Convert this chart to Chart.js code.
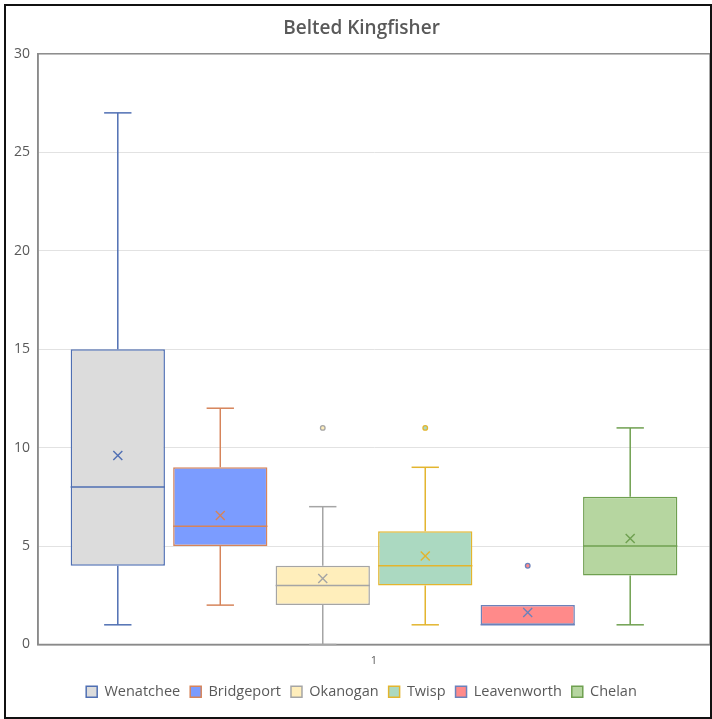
<!DOCTYPE html>
<html><head><meta charset="utf-8">
<script src="https://cdn.jsdelivr.net/npm/chart.js@4.4.1/dist/chart.umd.min.js"></script>
<style>
html,body{margin:0;padding:0;background:#fff;}
#wrap{position:relative;width:712px;height:719px;}
#frame{position:absolute;left:4px;top:4px;width:708px;height:715px;box-sizing:border-box;border:2px solid #111;pointer-events:none;}
canvas{display:block;}
</style></head><body>
<div id="wrap"><canvas id="c" width="712" height="719"></canvas><div id="frame"></div></div>
<script>
const categories = ['1'];
const seriesNames = ['Wenatchee', 'Bridgeport', 'Okanogan', 'Twisp', 'Leavenworth', 'Chelan'];
const minValues = [1, 2, 0, 1, 1, 1];
const q1Values = [4, 5, 2, 3, 1, 3.5];
const medianValues = [8, 6, 3, 4, 1, 5];
const q3Values = [15, 9, 4, 5.75, 2, 7.5];
const maxValues = [27, 12, 7, 9, 2, 11];
const meanValues = [9.6, 6.55, 3.35, 4.5, 1.63, 5.38];
const outlierValues = [[], [], [11], [11], [4], []];
const yTickValues = [0, 5, 10, 15, 20, 25, 30];

const fillColors = ['#dcdcdc', '#7b9cff', '#ffeebb', '#abd9c1', '#ff8a8a', '#b6d6a0'];
const lineColors = ['#4f6fb3', '#d6845a', '#a5a5a5', '#e3b52e', '#6b82bb', '#6fa050'];
const TEXT = '#595959';
const FONT = "'Open Sans', 'Noto Sans', sans-serif";

const boxPlugin = {
  id: 'boxplot',
  beforeDatasetsDraw(chart) {
    const ctx = chart.ctx, a = chart.chartArea;
    ctx.save();
    ctx.strokeStyle = '#8a8a8a';
    ctx.lineWidth = 1.5;
    ctx.strokeRect(a.left, a.top, a.right - a.left, a.bottom - a.top);
    ctx.restore();
  },
  afterDatasetsDraw(chart) {
    const ctx = chart.ctx, ys = chart.scales.y;
    const py = v => ys.getPixelForValue(v);
    chart.data.datasets.forEach((ds, i) => {
      const el = chart.getDatasetMeta(i).data[0];
      if (!el) return;
      const cx = el.x, w = el.width;
      const left = cx - w / 2, right = cx + w / 2;
      const cap = w * 0.145;
      ctx.save();
      ctx.strokeStyle = lineColors[i];
      ctx.lineWidth = 1.5;
      const seg = (x1, y1, x2, y2) => { ctx.beginPath(); ctx.moveTo(x1, y1); ctx.lineTo(x2, y2); ctx.stroke(); };
      if (maxValues[i] > q3Values[i]) {
        seg(cx, py(q3Values[i]), cx, py(maxValues[i]));
        seg(cx - cap, py(maxValues[i]), cx + cap, py(maxValues[i]));
      }
      if (minValues[i] < q1Values[i]) {
        seg(cx, py(q1Values[i]), cx, py(minValues[i]));
        seg(cx - cap, py(minValues[i]), cx + cap, py(minValues[i]));
      }
      seg(left, py(medianValues[i]), right, py(medianValues[i]));
      const my = py(meanValues[i]), s = 4.5;
      ctx.lineWidth = 1.4;
      seg(cx - s, my - s, cx + s, my + s);
      seg(cx - s, my + s, cx + s, my - s);
      outlierValues[i].forEach(v => {
        ctx.beginPath();
        ctx.arc(cx, py(v), 2.3, 0, Math.PI * 2);
        ctx.fillStyle = fillColors[i];
        ctx.fill();
        ctx.lineWidth = 1.3;
        ctx.stroke();
      });
      ctx.restore();
    });
  }
};

const datasets = seriesNames.map((name, i) => ({
  label: name,
  data: [[q1Values[i], q3Values[i]]],
  backgroundColor: fillColors[i],
  borderColor: lineColors[i],
  borderWidth: 1.5,
  borderSkipped: false,
  barPercentage: 0.92,
  categoryPercentage: 0.915
}));

new Chart(document.getElementById('c'), {
  type: 'bar',
  data: { labels: categories, datasets },
  plugins: [boxPlugin],
  options: {
    responsive: false,
    devicePixelRatio: 1,
    animation: false,
    layout: { padding: { left: 13, right: 2, top: 5, bottom: 10 } },
    plugins: {
      tooltip: { enabled: false },
      title: {
        display: true,
        text: 'Belted Kingfisher',
        color: TEXT,
        font: { family: FONT, size: 19, weight: '600' },
        padding: { top: 12, bottom: 14 }
      },
      legend: {
        position: 'bottom',
        labels: {
          color: TEXT,
          font: { family: FONT, size: 14.5 },
          boxWidth: 11,
          boxHeight: 11,
          padding: 10
        }
      }
    },
    scales: {
      x: {
        grid: { display: false, drawTicks: false },
        border: { display: true, color: '#8a8a8a', width: 1.5 },
        ticks: { color: TEXT, font: { family: FONT, size: 11 }, padding: 10 },
        afterFit(scale) { scale.height = 30; }
      },
      y: {
        min: 0, max: 30,
        afterBuildTicks(scale) { scale.ticks = yTickValues.map(v => ({ value: v })); },
        grid: { color: '#e2e2e2', lineWidth: 1, drawTicks: false },
        border: { display: true, color: '#8a8a8a', width: 1.5 },
        ticks: { color: TEXT, font: { family: FONT, size: 14 }, padding: 8 },
        afterFit(scale) { scale.width = 25; }
      }
    }
  }
});
</script>
</body></html>
